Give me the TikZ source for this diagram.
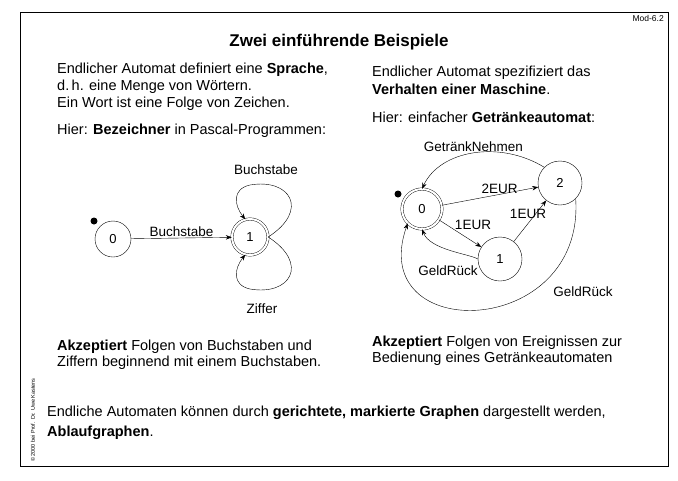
\documentclass[tikz,border=0pt]{standalone}
\usepackage{fontspec}
\setmainfont{Liberation Sans}
\usetikzlibrary{arrows.meta}
\tikzset{
  state/.style={draw, circle, minimum size=36pt, inner sep=0pt, font=\fontsize{13}{15}\selectfont},
  accept/.style={state, double, double distance=2pt},
  txt/.style={anchor=west, inner sep=0pt, font=\fontsize{14.5}{17}\selectfont},
  lbl/.style={inner sep=1pt, font=\fontsize{13.5}{15}\selectfont},
  edge/.style={->, >={Stealth[length=6pt]}, thin}
}
\begin{document}
\begin{tikzpicture}[x=1pt, y=-1pt]
\useasboundingbox (0,0) rectangle (678,480);
\draw[thin] (20,12) rectangle (668,466);
\node[anchor=east, inner sep=0pt, font=\fontsize{8.5}{9}\selectfont] (mod) at (664,18) {Mod-6.2};
\node[inner sep=0pt, font=\bfseries\fontsize{17}{20}\selectfont] (title) at (339,42) {Zwei einführende Beispiele};
% left column
\node[txt] (l1) at (57,70) {Endlicher Automat definiert eine \textbf{Sprache},};
\node[txt] (l2) at (57,87) {d.\,h. eine Menge von Wörtern.};
\node[txt] (l3) at (57,104) {Ein Wort ist eine Folge von Zeichen.};
\node[txt] (l4) at (57,131) {Hier: \textbf{Bezeichner} in Pascal-Programmen:};
% right column
\node[txt] (r1) at (372,73) {Endlicher Automat spezifiziert das};
\node[txt] (r2) at (372,89) {\textbf{Verhalten einer Maschine}.};
\node[txt] (r3) at (372,117) {Hier: einfacher \textbf{Getränkeautomat}:};
% left automaton
\node[state] (A0) at (113,239) {0};
\node[accept] (A1) at (250,237) {1};
\fill (94,221) circle (3.5pt);
\draw[edge] (A0) -- node[lbl, above] {Buchstabe} (A1);
\draw[edge] (A1.east) .. controls (310,210) and (290,178) .. (250,185) .. controls (232,189) and (234,205) .. (A1.105);
\node[lbl] (bl) at (266,170) {Buchstabe};
\draw[edge] (A1.east) .. controls (310,264) and (290,296) .. (250,289) .. controls (232,285) and (234,269) .. (A1.255);
\node[lbl] (zl) at (262,309) {Ziffer};
% right automaton
\node[accept, minimum size=40pt] (B0) at (422,209) {0};
\node[state, minimum size=44pt] (B2) at (560,183) {2};
\node[state, minimum size=44pt] (B1) at (500,259) {1};
\fill (398,194) circle (3.5pt);
\draw[edge] (B2.north west) .. controls (500,140) and (440,150) .. node[lbl, pos=0.5, above] {GetränkNehmen} (B0.north);
\draw[edge] (B0) -- node[lbl, above, pos=0.6] {2EUR} (B2);
\draw[edge] (B0) -- (B1);
\node[lbl] (e1) at (473,225) {1EUR};
\draw[edge] (B1) -- (B2);
\node[lbl] (e2) at (528,214) {1EUR};
\draw[edge] (B1.west) .. controls (470,254) and (430,250) .. (B0.south);
\node[lbl] (gr1) at (448,271) {GeldRück};
\draw[edge] (B2.south east) .. controls (585,340) and (365,345) .. (B0.south west);
\node[lbl] (gr2) at (583,292) {GeldRück};
% bottom texts
\node[txt] (l5) at (57,347) {\textbf{Akzeptiert} Folgen von Buchstaben und};
\node[txt] (l6) at (57,363) {Ziffern beginnend mit einem Buchstaben.};
\node[txt] (r4) at (372,343) {\textbf{Akzeptiert} Folgen von Ereignissen zur};
\node[txt] (r5) at (372,359) {Bedienung eines Getränkeautomaten};
\node[txt] (b1) at (47,413) {Endliche Automaten können durch \textbf{gerichtete, markierte Graphen} dargestellt werden,};
\node[txt] (b2) at (47,433) {\textbf{Ablaufgraphen}.};
\node[rotate=90, anchor=west, inner sep=0pt, font=\rmfamily\fontsize{5.5}{6}\selectfont] (copy) at (33,462) {© 2000 bei Prof. Dr. Uwe Kastens};
\end{tikzpicture}
\end{document}
